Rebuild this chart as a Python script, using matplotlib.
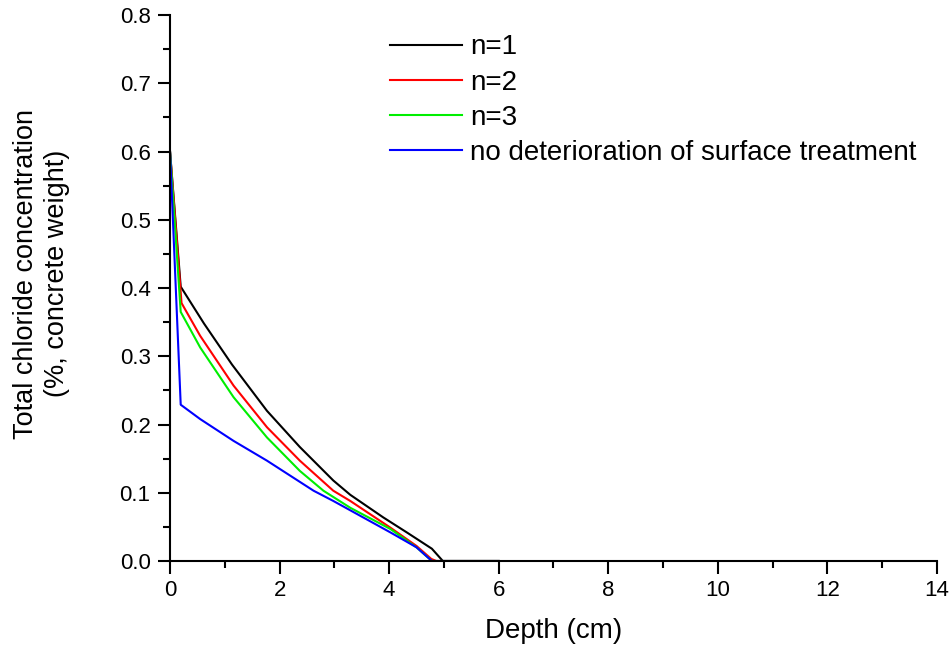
import matplotlib.pyplot as plt
from matplotlib.ticker import MultipleLocator

plt.rcParams['font.family'] = ['Liberation Sans', 'DejaVu Sans']

# depth (cm) / total chloride (%)
x_n1 = [0.0, 0.195, 0.62, 1.13, 1.77, 2.37, 2.98, 3.29, 3.89, 4.32, 4.78, 4.98, 6.0]
y_n1 = [0.60, 0.402, 0.348, 0.288, 0.220, 0.167, 0.118, 0.097, 0.064, 0.042, 0.018, 0.0, 0.0]

x_n2 = [0.0, 0.21, 0.55, 1.16, 1.77, 2.37, 2.98, 3.29, 4.02, 4.50, 4.77, 4.86, 6.0]
y_n2 = [0.60, 0.378, 0.330, 0.257, 0.196, 0.147, 0.103, 0.088, 0.049, 0.022, 0.003, 0.0, 0.0]

x_n3 = [0.0, 0.195, 0.55, 1.16, 1.77, 2.37, 2.80, 3.29, 4.02, 4.50, 4.78, 6.0]
y_n3 = [0.60, 0.365, 0.313, 0.240, 0.181, 0.132, 0.103, 0.078, 0.047, 0.020, 0.0, 0.0]

x_nd = [0.0, 0.195, 0.55, 1.16, 1.77, 2.62, 2.98, 4.02, 4.50, 4.78, 6.0]
y_nd = [0.60, 0.229, 0.208, 0.176, 0.147, 0.103, 0.088, 0.042, 0.020, 0.0, 0.0]

series = [
    (x_n1, y_n1, 'black', 'n=1'),
    (x_n2, y_n2, '#ff0000', 'n=2'),
    (x_n3, y_n3, '#00ee00', 'n=3'),
    (x_nd, y_nd, '#0000ff', 'no deterioration of surface treatment'),
]

fig = plt.figure(figsize=(9.52, 6.53), dpi=100)
ax = fig.add_axes([0.1786, 0.1409, 0.8056, 0.836])

for x, y, c, lab in series:
    ax.plot(x, y, color=c, lw=1.5, label=lab)

ax.set_xlim(0, 14)
ax.set_ylim(0, 0.8)
ax.xaxis.set_major_locator(MultipleLocator(2))
ax.xaxis.set_minor_locator(MultipleLocator(1))
ax.yaxis.set_major_locator(MultipleLocator(0.1))
ax.yaxis.set_minor_locator(MultipleLocator(0.05))
ax.yaxis.set_major_formatter(plt.FormatStrFormatter('%.1f'))

for s in ['top', 'right']:
    ax.spines[s].set_visible(False)
for s in ['left', 'bottom']:
    ax.spines[s].set_linewidth(1.5)

ax.tick_params(which='major', direction='out', length=9, width=1.5, labelsize=16, pad=5)
ax.tick_params(which='minor', direction='out', length=5, width=1.5)

ax.set_xlabel('Depth (cm)', fontsize=20)
ax.xaxis.set_label_coords(0.5, -0.105)
ax.set_ylabel('Total chloride concentration\n(%, concrete weight)', fontsize=19.5,
              linespacing=1.25)
ax.yaxis.set_label_coords(-0.13, 0.526)

ax.legend(loc='upper left', bbox_to_anchor=(0.265, 0.995), frameon=False,
          fontsize=20, handlelength=2.6, handletextpad=0.3, labelspacing=0.33,
          borderaxespad=0.2)

fig.savefig('out.png', dpi=100)
